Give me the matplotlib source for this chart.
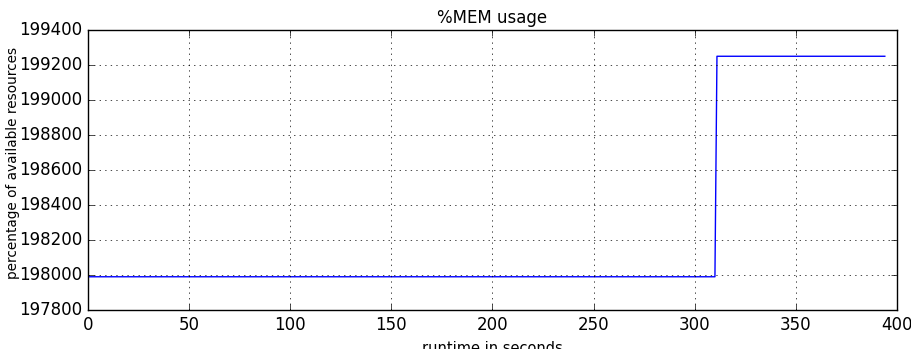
import matplotlib
matplotlib.use("Agg")
import matplotlib.pyplot as plt

runtime = [0, 310, 311, 394]
mem = [197990, 197990, 199250, 199250]
xlim = (0, 400)
ylim = (197800, 199400)

plt.style.use('classic')
fig = plt.figure(figsize=(9.12, 3.49), dpi=100)
ax = fig.add_axes([0.0965, 0.1117, 0.887, 0.8023])
ax.plot(runtime, mem, color='b', linewidth=1)
ax.set_xlim(*xlim)
ax.set_ylim(*ylim)
ax.ticklabel_format(useOffset=False, style='plain', axis='y')
ax.grid(True)
ax.set_title('%MEM usage', fontsize=12)
ax.set_xlabel('runtime in seconds', fontsize=10.5)
ax.set_ylabel('percentage of available resources', fontsize=9.8)
ax.yaxis.set_label_coords(-0.0835, 0.525)
fig.savefig('out.png', dpi=100)
